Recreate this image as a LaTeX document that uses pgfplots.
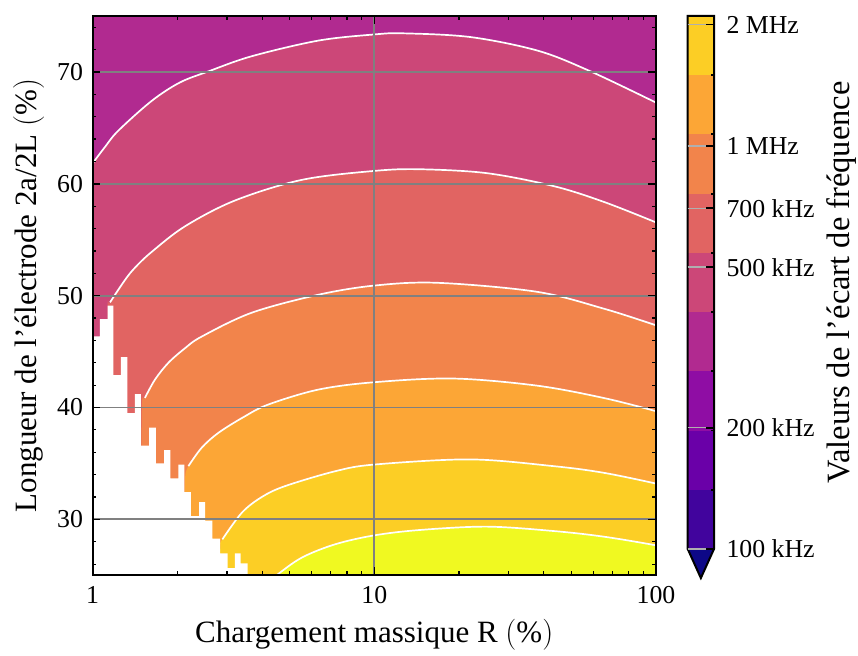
\documentclass[border=0pt]{standalone}
\usepackage{fix-cm}
\usepackage{pgfplots}
\pgfplotsset{compat=1.18}
\usepackage{fontspec}
\setmainfont{Liberation Serif}
\definecolor{p0}{HTML}{0D0887}
\definecolor{p1}{HTML}{41049D}
\definecolor{p2}{HTML}{6A00A8}
\definecolor{p3}{HTML}{8F0DA4}
\definecolor{p4}{HTML}{B12A90}
\definecolor{p5}{HTML}{CC4778}
\definecolor{p6}{HTML}{E16462}
\definecolor{p7}{HTML}{F2844B}
\definecolor{p8}{HTML}{FCA636}
\definecolor{p9}{HTML}{FCCE25}
\definecolor{p10}{HTML}{F0F921}
\definecolor{gridgray}{RGB}{128,128,128}
\definecolor{cbgray}{RGB}{175,175,175}
\pgfplotsset{
  band/.style={draw=none, smooth, tension=0.55},
  cline/.style={white, line width=1.7pt, smooth, tension=0.55},
}
\begin{document}
\begin{tikzpicture}
\path[use as bounding box] (-92.5pt,-79.7pt) rectangle (765.5pt,575.3pt);
\begin{axis}[
  at={(0pt,0pt)}, anchor=south west,
  scale only axis, width=563.5pt, height=559.3pt,
  xmode=log, xmin=1, xmax=100, ymin=25, ymax=75,
  xtick={1,10,100}, xticklabels={1,10,100},
  minor xtick={2,3,4,5,6,7,8,9,20,30,40,50,60,70,80,90},
  ytick={30,40,50,60,70}, yticklabels={30,40,50,60,70},
  minor ytick={26,28,32,34,36,38,42,44,46,48,52,54,56,58,62,64,66,68,72,74},
  xtick pos=both, ytick pos=both, xticklabel pos=lower, yticklabel pos=left,
  tick align=inside,
  major tick length=8pt, minor tick length=4pt,
  every tick/.style={black, line width=1.5pt},
  every minor tick/.append style={line width=1.2pt},
  grid=major, major grid style={draw=gridgray, line width=1.8pt},
  axis line style={line width=2pt},
  axis on top,
  tick label style={font=\fontsize{25.8}{30}\selectfont},
  xticklabel style={yshift=-8pt},
  yticklabel style={xshift=-6pt},
  label style={font=\fontsize{31}{37}\selectfont},
  xlabel={Chargement massique R $(\%)$},
  ylabel={Longueur de l'électrode 2a/2L $(\%)$},
  xlabel style={at={(axis description cs:0.5,-0.121)}, anchor=base},
  ylabel style={at={(axis description cs:-0.0994,0.5)}, anchor=base},
]
% background band (276 kHz - 387 kHz)
\addplot[fill=p4, draw=none] coordinates {(0.5,80) (200,80)} \closedcycle;
% level 387 kHz
\addplot[fill=p5, band] coordinates {(0.95,60.9) (1,61.8) (1.108,63.3) (1.235,64.75) (1.62,67.4) (2.04,69.05) (2.58,70.05) (3.67,71.4) (6.33,72.8) (10,73.35) (12.7,73.45) (21.9,73.12) (37.7,71.93) (56.8,70.2) (100,67.26) (110,66.7)} \closedcycle;
% level 543 kHz
\addplot[fill=p6, band] coordinates {(1.12,25) (1.13,47.5) (1.154,49.4) (1.304,51.4) (1.415,52.5) (1.62,53.9) (2.13,56.2) (3.2,58.5) (5.53,60.35) (10,61.15) (14.5,61.3) (25.1,60.95) (43.2,59.8) (65,58.4) (100,56.55) (110,56.1)} \closedcycle;
% level 761 kHz
\addplot[fill=p7, band] coordinates {(1.487,25) (1.495,39.5) (1.535,40.86) (1.667,42.5) (1.86,44.0) (2.13,45.3) (2.44,46.34) (3.67,48.47) (6.33,50.08) (10,50.9) (16.7,51.15) (37.7,50.35) (65,48.85) (100,47.35) (110,46.97)} \closedcycle;
% level 1.07 MHz
\addplot[fill=p8, band] coordinates {(2.115,25) (2.125,33.0) (2.19,34.76) (2.44,36.4) (2.80,37.74) (3.44,39.15) (4.21,40.27) (6.33,41.6) (10,42.26) (19.1,42.59) (37.7,41.96) (65,40.86) (100,39.67) (110,39.3)} \closedcycle;
% level 1.50 MHz
\addplot[fill=p9, band] coordinates {(2.838,25) (2.842,27.5) (2.89,28.21) (3.39,30.6) (3.99,32.0) (4.82,32.97) (7.26,34.3) (10,34.9) (21.9,35.36) (43.2,34.76) (65,34.17) (100,33.2) (110,32.9)} \closedcycle;
% level 2.1 MHz
\addplot[fill=p10, band] coordinates {(4.3,24.5) (4.5,25.0) (5.53,26.58) (7.26,27.77) (10,28.57) (14.5,29.05) (25.1,29.35) (43.2,28.96) (65,28.46) (100,27.68) (110,27.4)} \closedcycle;
% undefined region
\addplot[fill=white, draw=none] coordinates {(0.9,46.36) (1.063,46.36) (1.063,47.9) (1.132,47.9) (1.132,49.1) (1.186,49.1) (1.186,42.9) (1.262,42.9) (1.262,44.5) (1.329,44.5) (1.329,39.5) (1.415,39.5) (1.415,41.2) (1.486,41.2) (1.486,36.6) (1.587,36.6) (1.587,38.2) (1.680,38.2) (1.680,35.0) (1.794,35.0) (1.794,36.2) (1.889,36.2) (1.889,33.66) (2.017,33.66) (2.017,34.9) (2.118,34.9) (2.118,32.44) (2.236,32.44) (2.236,30.3) (2.388,30.3) (2.388,31.55) (2.508,31.55) (2.508,29.88) (2.663,29.88) (2.663,28.28) (2.836,28.28) (2.836,26.96) (3.019,26.96) (3.019,25.65) (3.204,25.65) (3.204,26.96) (3.357,26.96) (3.357,26.07) (3.554,26.07) (3.554,20)} \closedcycle;
% contour lines
\addplot[cline] coordinates {(0.95,60.9) (1,61.8) (1.108,63.3) (1.235,64.75) (1.62,67.4) (2.04,69.05) (2.58,70.05) (3.67,71.4) (6.33,72.8) (10,73.35) (12.7,73.45) (21.9,73.12) (37.7,71.93) (56.8,70.2) (100,67.26) (110,66.7)};
\addplot[cline] coordinates {(1.154,49.4) (1.304,51.4) (1.415,52.5) (1.62,53.9) (2.13,56.2) (3.2,58.5) (5.53,60.35) (10,61.15) (14.5,61.3) (25.1,60.95) (43.2,59.8) (65,58.4) (100,56.55) (110,56.1)};
\addplot[cline] coordinates {(1.535,40.86) (1.667,42.5) (1.86,44.0) (2.13,45.3) (2.44,46.34) (3.67,48.47) (6.33,50.08) (10,50.9) (16.7,51.15) (37.7,50.35) (65,48.85) (100,47.35) (110,46.97)};
\addplot[cline] coordinates {(2.19,34.76) (2.44,36.4) (2.80,37.74) (3.44,39.15) (4.21,40.27) (6.33,41.6) (10,42.26) (19.1,42.59) (37.7,41.96) (65,40.86) (100,39.67) (110,39.3)};
\addplot[cline] coordinates {(2.89,28.21) (3.39,30.6) (3.99,32.0) (4.82,32.97) (7.26,34.3) (10,34.9) (21.9,35.36) (43.2,34.76) (65,34.17) (100,33.2) (110,32.9)};
\addplot[cline] coordinates {(4.3,24.5) (4.5,25.0) (5.53,26.58) (7.26,27.77) (10,28.57) (14.5,29.05) (25.1,29.35) (43.2,28.96) (65,28.46) (100,27.68) (110,27.4)};
\end{axis}
\begin{axis}[
  at={(595.2pt,26.3pt)}, anchor=south west,
  scale only axis, width=26.3pt, height=533pt,
  xmin=0, xmax=1, ymode=log, ymin=1e5, ymax=2.1e6,
  xtick=\empty, xmajorticks=false,
  ytick={1e5,2e5,5e5,7e5,1e6,2e6},
  yticklabels={100 kHz,200 kHz,500 kHz,700 kHz,1 MHz,2 MHz},
  minor ytick={140256,196717,275908,386978,542760,761253,1067700,1497510},
  ytick pos=right, yticklabel pos=right,
  tick align=inside, major tick length=8pt, minor tick length=3pt,
  every tick/.style={black, line width=1.8pt},
  ymajorgrids, major grid style={draw=cbgray, line width=1.5pt},
  axis line style={draw=none},
  clip=false, axis on top,
  tick label style={font=\fontsize{25.8}{30}\selectfont},
  yticklabel style={xshift=9pt},
  label style={font=\fontsize{32.5}{39}\selectfont},
  ylabel={Valeurs de l'écart de fréquence},
  ylabel style={at={(axis description cs:6.15,0.5)}, anchor=base, rotate=0},
]
\addplot[fill=p1, draw=none] coordinates {(0,100000) (1,100000) (1,140256) (0,140256)} -- cycle;
\addplot[fill=p2, draw=none] coordinates {(0,140256) (1,140256) (1,196717) (0,196717)} -- cycle;
\addplot[fill=p3, draw=none] coordinates {(0,196717) (1,196717) (1,275908) (0,275908)} -- cycle;
\addplot[fill=p4, draw=none] coordinates {(0,275908) (1,275908) (1,386978) (0,386978)} -- cycle;
\addplot[fill=p5, draw=none] coordinates {(0,386978) (1,386978) (1,542760) (0,542760)} -- cycle;
\addplot[fill=p6, draw=none] coordinates {(0,542760) (1,542760) (1,761253) (0,761253)} -- cycle;
\addplot[fill=p7, draw=none] coordinates {(0,761253) (1,761253) (1,1067700) (0,1067700)} -- cycle;
\addplot[fill=p8, draw=none] coordinates {(0,1067700) (1,1067700) (1,1497510) (0,1497510)} -- cycle;
\addplot[fill=p9, draw=none] coordinates {(0,1497510) (1,1497510) (1,2100000) (0,2100000)} -- cycle;
\addplot[fill=p0, draw=none] coordinates {(0,100000) (0.5,84700) (1,100000)} -- cycle;
\addplot[black, line width=2pt, line join=miter] coordinates {(0,2100000) (0,100000) (0.5,84700) (1,100000) (1,2100000)} -- cycle;
\end{axis}
\end{tikzpicture}
\end{document}
